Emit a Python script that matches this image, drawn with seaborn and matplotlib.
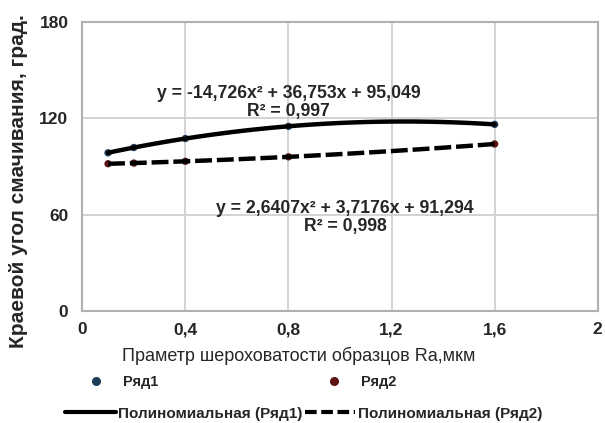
import numpy as np
import pandas as pd
import seaborn as sns
import matplotlib
matplotlib.use("Agg")
import matplotlib.pyplot as plt
from matplotlib.lines import Line2D
from matplotlib.ticker import FuncFormatter

# данные
ra = [0.1, 0.2, 0.4, 0.8, 1.6]
ryad1 = [98.5, 101.8, 107.4, 115.0, 116.2]
ryad2 = [91.7, 92.1, 93.2, 96.0, 104.0]

eq1 = "y = -14,726x² + 36,753x + 95,049\nR² = 0,997"
eq2 = "y = 2,6407x² + 3,7176x + 91,294\nR² = 0,998"

xticks = [0, 0.4, 0.8, 1.2, 1.6, 2]
yticks = [0, 60, 120, 180]

df = pd.DataFrame({"ra": ra, "r1": ryad1, "r2": ryad2})

sns.set_theme(style="whitegrid")
plt.rcParams["font.family"] = ["Liberation Sans", "DejaVu Sans"]

c1 = "#1f3b5a"
c2 = "#5a1414"
dash = (0, (3.8, 1.1))

fig = plt.figure(figsize=(6.05, 4.23), dpi=100)
ax = fig.add_axes([0.136, 0.265, 0.852, 0.683])

sns.scatterplot(data=df, x="ra", y="r1", color=c1, s=28, edgecolor="none", ax=ax, zorder=3)
sns.scatterplot(data=df, x="ra", y="r2", color=c2, s=28, edgecolor="none", ax=ax, zorder=3)
sns.regplot(data=df, x="ra", y="r1", order=2, ci=None, scatter=False, ax=ax,
            line_kws={"color": "black", "lw": 3.2, "zorder": 4})
sns.regplot(data=df, x="ra", y="r2", order=2, ci=None, scatter=False, ax=ax,
            line_kws={"color": "black", "lw": 3.2, "ls": dash, "zorder": 4})

ax.set_xlim(0, 2)
ax.set_ylim(0, 180)
ax.set_xticks(xticks)
ax.set_yticks(yticks)
fmt = FuncFormatter(lambda v, p: ("%g" % v).replace(".", ","))
ax.xaxis.set_major_formatter(fmt)
ax.yaxis.set_major_formatter(fmt)
ax.tick_params(labelsize=12.5, length=0)
ax.tick_params(axis="x", pad=8)
ax.tick_params(axis="y", pad=10)
for lab in ax.get_xticklabels() + ax.get_yticklabels():
    lab.set_fontweight("bold")

ax.grid(color="#d0d0d0", lw=1.3)
for s in ax.spines.values():
    s.set_color("#b0b0b0")
    s.set_linewidth(1.5)

ax.set_xlabel("Праметр шероховатости образцов Ra,мкм", fontsize=13)
ax.xaxis.set_label_coords(0.42, -0.125)
ax.set_ylabel("Краевой угол смачивания, град.", fontsize=15, fontweight="bold")
ax.yaxis.set_label_coords(-0.105, 0.45)

ax.text(0.8, 130, eq1, ha="center", va="center", fontsize=12.7, fontweight="bold", linespacing=1.05)
ax.text(1.02, 58, eq2, ha="center", va="center", fontsize=12.7, fontweight="bold", linespacing=1.05)

h_dots = [Line2D([], [], ls="none", marker="o", ms=5.5, color=c1, label="Ряд1"),
          Line2D([], [], ls="none", marker="o", ms=5.5, color=c2, label="Ряд2")]
fig.legend(handles=h_dots, ncol=2, loc="center", bbox_to_anchor=(0.395, 0.097),
           frameon=False, columnspacing=11.0, handletextpad=0.9,
           prop={"size": 10.5, "weight": "bold"})
h_lines = [Line2D([], [], color="black", lw=3, label="Полиномиальная (Ряд1)"),
           Line2D([], [], color="black", lw=3, ls=(0, (2.8, 1.1)), label="Полиномиальная (Ряд2)")]
fig.legend(handles=h_lines, ncol=2, loc="center", bbox_to_anchor=(0.502, 0.022),
           frameon=False, columnspacing=0.15, handletextpad=0.15, handlelength=3.3,
           prop={"size": 11, "weight": "bold"})

fig.savefig("out.png", dpi=100)
